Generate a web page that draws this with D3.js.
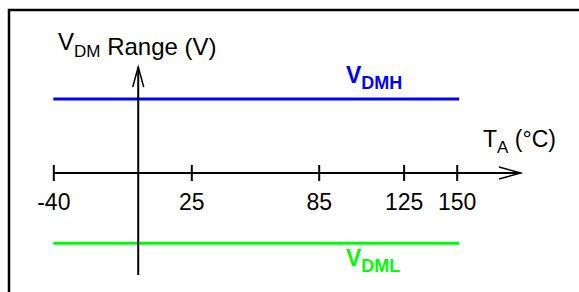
<!DOCTYPE html>
<html>
<head>
<meta charset="utf-8">
<script src="https://cdn.jsdelivr.net/npm/d3@7"></script>
<style>
    html, body { margin: 0; padding: 0; background: #fff; }
    text { font-family: "Liberation Sans", Arial, sans-serif; }
</style>
</head>
<body>
<div id="chart"></div>
<script>
// temperature axis (°C)
const tempDomain = [-40, 150];
const tempTicks = [-40, 25, 85, 125, 150];

// V_DM levels (arbitrary units, 0 = temperature axis)
const levelNames = ['DMH', 'DML'];
const levelValues = [1, -0.95];
const levelColors = ['#0000ff', '#00ff00'];

const width = 579;
const height = 292;

const svg = d3.select('#chart').append('svg')
    .attr('width', width)
    .attr('height', height);

// frame (left + top only)
svg.append('path')
    .attr('d', `M9,${height} L9,10 L${width},10`)
    .attr('fill', 'none')
    .attr('stroke', '#000')
    .attr('stroke-width', 2.5);

const x = d3.scaleLinear().domain(tempDomain).range([53.3, 456.7]);
const y = d3.scaleLinear().domain([0, 1]).range([173, 99]);

// level lines
levelValues.forEach((v, i) => {
    svg.append('line')
        .attr('x1', x(tempDomain[0]))
        .attr('x2', x(tempDomain[1]) + 2.5)
        .attr('y1', y(v))
        .attr('y2', y(v))
        .attr('stroke', levelColors[i])
        .attr('stroke-width', 3);
});

// vertical axis at 0 °C
const x0 = x(0);
svg.append('line')
    .attr('x1', x0).attr('x2', x0)
    .attr('y1', 67).attr('y2', 275)
    .attr('stroke', '#000').attr('stroke-width', 2);
svg.append('path')
    .attr('d', `M${x0 - 5.5},87 L${x0},67 L${x0 + 5.5},87`)
    .attr('fill', 'none').attr('stroke', '#000').attr('stroke-width', 1.5);

// horizontal temperature axis
const xAxis = d3.axisBottom(x)
    .tickValues(tempTicks)
    .tickFormat((d) => String(d))
    .tickSize(8)
    .tickPadding(0);
const gx = svg.append('g').attr('transform', `translate(0, ${y(0)})`).call(xAxis);
gx.select('.domain').remove();
gx.selectAll('.tick line')
    .attr('y1', -8).attr('y2', 8)
    .attr('stroke', '#000').attr('stroke-width', 2);
gx.selectAll('.tick text')
    .attr('y', 37).attr('dy', null)
    .attr('fill', '#000')
    .style('font-size', '23px')
    .style('font-family', '"Liberation Sans", Arial, sans-serif');

svg.append('line')
    .attr('x1', x(tempDomain[0])).attr('x2', 520.7)
    .attr('y1', y(0)).attr('y2', y(0))
    .attr('stroke', '#000').attr('stroke-width', 2);
svg.append('path')
    .attr('d', `M499,${y(0) - 6} L520.7,${y(0)} L499,${y(0) + 6}`)
    .attr('fill', 'none').attr('stroke', '#000').attr('stroke-width', 1.5);

// y-axis title
const yTitle = svg.append('text').attr('x', 58).attr('y', 50)
    .style('font-size', '24px').attr('fill', '#000');
yTitle.append('tspan').text('V');
yTitle.append('tspan').attr('dy', 7).style('font-size', '17px').text('DM');
yTitle.append('tspan').attr('dy', -2).text(' Range (V)');

// x-axis title
const xTitle = svg.append('text').attr('x', 483).attr('y', 147)
    .style('font-size', '23px').attr('fill', '#000');
xTitle.append('tspan').text('T');
xTitle.append('tspan').attr('dy', 6).style('font-size', '17px').text('A');
xTitle.append('tspan').attr('dy', -6).text(' (°C)');

// level labels
const labelY = [83, 266];
levelNames.forEach((name, i) => {
    const t = svg.append('text').attr('x', 346).attr('y', labelY[i])
        .style('font-size', '23px').style('font-weight', 'bold')
        .attr('fill', levelColors[i]);
    t.append('tspan').text('V');
    t.append('tspan').attr('dy', 6).style('font-size', '18px').text(name);
});
</script>
</body>
</html>
